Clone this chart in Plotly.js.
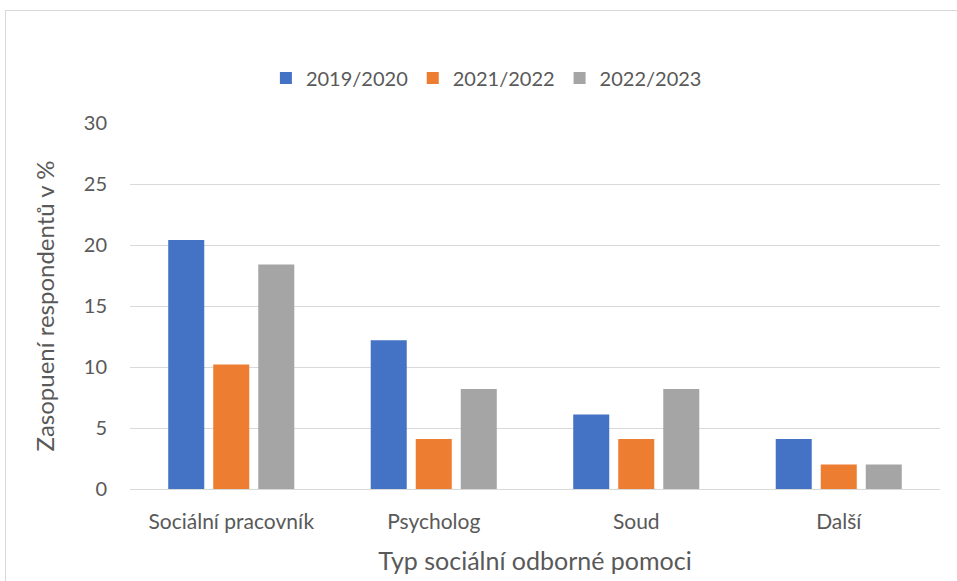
<!DOCTYPE html>
<html>
<head>
<meta charset="utf-8">
<script src="https://cdn.plot.ly/plotly-3.0.1.min.js"></script>
<style>
html,body{margin:0;padding:0;background:#fff;}
#frame{position:absolute;left:5px;top:10px;width:960px;height:580px;border:1px solid #d9d9d9;box-sizing:border-box;}
#chart{position:absolute;left:0;top:0;width:957px;height:581px;}
</style>
</head>
<body>
<div id="frame"></div>
<div id="chart"></div>
<script>
const categories = ["Sociální pracovník", "Psycholog", "Soud", "Další"];
const seriesNames = ["2019/2020", "2021/2022", "2022/2023"];
const values2019 = [20.4, 12.2, 6.1, 4.1];
const values2021 = [10.2, 4.1, 4.1, 2.0];
const values2022 = [18.4, 8.2, 8.2, 2.0];
const yTicks = [0, 5, 10, 15, 20, 25, 30];
const colors = ["#4472C4", "#ED7D31", "#A5A5A5"];

const allValues = [values2019, values2021, values2022];
const traces = allValues.map((v, i) => ({
  type: "bar",
  name: seriesNames[i],
  x: categories,
  y: v,
  marker: {color: colors[i]},
  hoverinfo: "x+y+name"
}));

const font = "Lato, 'Open Sans', sans-serif";
const layout = {
  width: 957, height: 581,
  margin: {l: 130, r: 17, t: 123, b: 92},
  paper_bgcolor: "rgba(0,0,0,0)",
  plot_bgcolor: "rgba(0,0,0,0)",
  font: {family: font, color: "#595959", size: 20},
  barmode: "group",
  bargap: 0.333,
  bargroupgap: 0.2,
  showlegend: true,
  legend: {
    orientation: "h", x: 0.44, xanchor: "center", y: 1.123, yanchor: "middle",
    font: {size: 20, color: "#595959"}, itemwidth: 20, traceorder: "normal"
  },
  xaxis: {
    type: "category",
    showgrid: false, showline: false, zeroline: false,
    ticks: "", ticklabelstandoff: 18,
    tickfont: {size: 21, color: "#595959"},
    title: {text: "Typ sociální odborné pomoci", font: {size: 25, color: "#595959"}, standoff: 20}
  },
  yaxis: {
    range: [0, 30], tickvals: yTicks, ticktext: yTicks.map(String),
    showgrid: true, gridcolor: "#d9d9d9", gridwidth: 1,
    zeroline: true, zerolinecolor: "#d9d9d9", zerolinewidth: 1,
    showline: false, ticks: "", ticklabelstandoff: 22,
    tickfont: {size: 20, color: "#595959"},
    title: {text: "Zasopuení respondentů v %", font: {size: 24, color: "#595959"}, standoff: 22}
  }
};

Plotly.newPlot("chart", traces, layout, {displayModeBar: false, staticPlot: true});
</script>
</body>
</html>
